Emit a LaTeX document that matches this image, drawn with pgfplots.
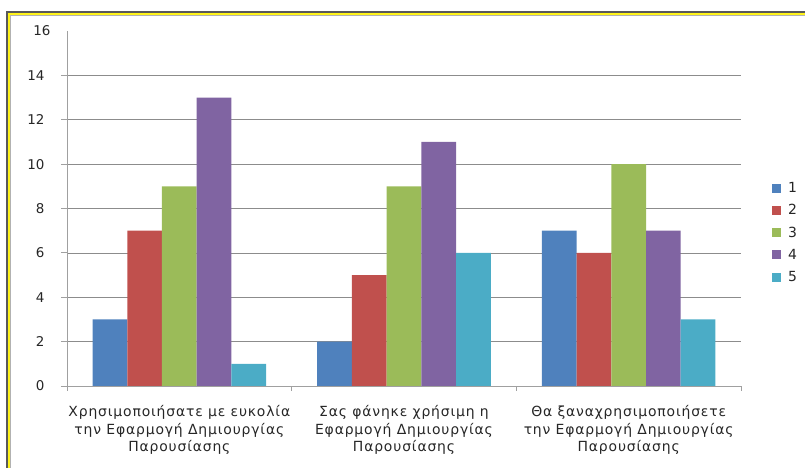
\documentclass[border=0pt]{standalone}
\usepackage{fontspec}
\setmainfont{DejaVu Sans}
\newfontfamily\catfont[LetterSpace=6]{DejaVu Sans}
\usepackage{pgfplots}
\pgfplotsset{compat=1.18}

\definecolor{sA}{HTML}{4F81BD}
\definecolor{sB}{HTML}{C0504D}
\definecolor{sC}{HTML}{9BBB59}
\definecolor{sD}{HTML}{8064A2}
\definecolor{sE}{HTML}{4BACC6}
\definecolor{axgray}{HTML}{A0A0A0}
\definecolor{gridgray}{HTML}{8C8C8C}

\begin{document}
\begin{tikzpicture}
\useasboundingbox (0bp,0bp) rectangle (805bp,468bp);
% outer frame: dark, yellow and light grey rules
\draw[line width=2.4bp, color=black!65] (7bp,-5bp) -- (7bp,456bp) -- (810bp,456bp);
\draw[line width=1.8bp, color=yellow!90!white] (9.2bp,-5bp) -- (9.2bp,454bp) -- (810bp,454bp);
\draw[line width=1.1bp, color=black!30] (10.9bp,-5bp) -- (10.9bp,452.4bp) -- (810bp,452.4bp);

\begin{axis}[
  at={(67bp,82bp)}, anchor=south west,
  width=674bp, height=355bp, scale only axis,
  xmin=-0.5, xmax=2.5, ymin=0, ymax=16,
  ybar=0pt, bar width=0.1545,
  axis lines*=left,
  axis line style={axgray, line width=0.8bp},
  ytick={0,2,...,14},
  extra y ticks={16},
  extra y tick style={grid=none, major tick length=0pt},
  ymajorgrids,
  grid style={gridgray, line width=0.7bp},
  tick align=outside,
  major tick length=6bp,
  ytick style={axgray, line width=0.8bp},
  xtick={0,1,2},
  xtick style={draw=none},
  extra x ticks={-0.5,0.5,1.5,2.5},
  extra x tick labels={},
  extra x tick style={grid=none, major tick length=4.5bp, xtick style={draw=axgray, line width=0.8bp}},
  xticklabels={{Χρησιμοποιήσατε με ευκολία\\την Εφαρμογή Δημιουργίας\\Παρουσίασης},
               {Σας φάνηκε χρήσιμη η\\Εφαρμογή Δημιουργίας\\Παρουσίασης},
               {Θα ξαναχρησιμοποιήσετε\\την Εφαρμογή Δημιουργίας\\Παρουσίασης}},
  xticklabel style={align=center, font=\catfont\fontsize{14}{17.5}\selectfont, yshift=-10bp, text=black!85},
  yticklabel style={font=\fontsize{13.5}{15}\selectfont, xshift=-13bp, text=black!85},
  /pgf/number format/assume math mode=true,
  legend style={at={(1.0415,0.432)}, anchor=west, draw=none, fill=none,
    font=\fontsize{14}{16}\selectfont, row sep=6.5bp, text=black!85},
  legend cell align=left,
  legend image code/.code={\fill[#1] (0bp,-4.5bp) rectangle (9bp,4.5bp); \path (14bp,0bp);},
  clip=false,
]
\addplot[fill=sA, draw=none] coordinates {(0,3) (1,2) (2,7)};
\addplot[fill=sB, draw=none] coordinates {(0,7) (1,5) (2,6)};
\addplot[fill=sC, draw=none] coordinates {(0,9) (1,9) (2,10)};
\addplot[fill=sD, draw=none] coordinates {(0,13) (1,11) (2,7)};
\addplot[fill=sE, draw=none] coordinates {(0,1) (1,6) (2,3)};
\legend{1,2,3,4,5}
\end{axis}
\end{tikzpicture}
\end{document}
